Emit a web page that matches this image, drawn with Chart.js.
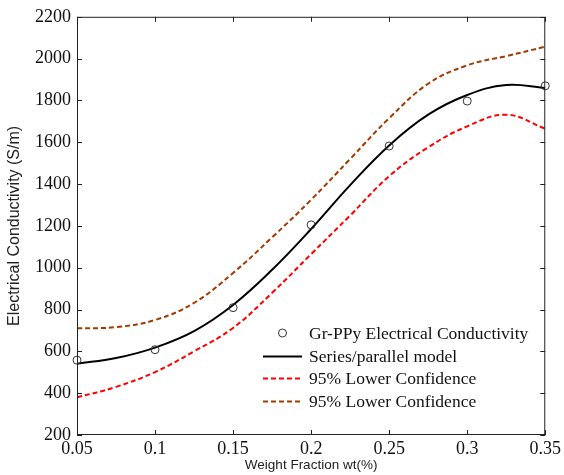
<!DOCTYPE html>
<html>
<head>
<meta charset="utf-8">
<script src="https://cdn.jsdelivr.net/npm/chart.js@4.4.0/dist/chart.umd.min.js"></script>
<style>
  html, body { margin: 0; padding: 0; background: #fff; }
  #wrap { width: 564px; height: 475px; }
</style>
</head>
<body>
<div id="wrap"><canvas id="chartId" width="564" height="475"></canvas></div>
<script>
// weight fraction grid for the fitted curves
var fractions = [0.05, 0.075, 0.1, 0.125, 0.15, 0.175, 0.2, 0.225, 0.25, 0.275, 0.3, 0.325, 0.35];
var modelValues = [541, 568, 618, 697, 822, 990, 1185, 1395, 1585, 1732, 1826, 1874, 1860];
var lowerValues = [380, 430, 501, 600, 712, 880, 1065, 1250, 1438, 1576, 1676, 1732, 1665];
var upperValues = [710, 716, 750, 832, 975, 1145, 1325, 1520, 1715, 1880, 1968, 2012, 2057];

// measured points
var measuredX = [0.05, 0.1, 0.15, 0.2, 0.25, 0.3, 0.35];
var measuredY = [558, 608, 809, 1205, 1582, 1797, 1870];

var seriesLabels = ['Gr-PPy Electrical Conductivity', 'Series/parallel model', '95% Lower Confidence', '95% Lower Confidence'];
var xTicks = [0.05, 0.1, 0.15, 0.2, 0.25, 0.3, 0.35];

function pairs(xs, ys) {
	return xs.map(function (x, i) { return { x: x, y: ys[i] }; });
}

var serif = "'Liberation Serif', 'Times New Roman', serif";
var sans = "'Liberation Sans', Arial, sans-serif";

// frame with inward ticks on all four sides
var framePlugin = {
	id: 'frame',
	afterDraw: function (chart) {
		var ctx = chart.ctx, a = chart.chartArea;
		var xs = chart.scales.x, ys = chart.scales.y;
		ctx.save();
		ctx.strokeStyle = '#222';
		ctx.lineWidth = 1;
		ctx.strokeRect(a.left + 0.5, a.top + 0.5, a.right - a.left - 1, a.bottom - a.top - 1);
		ctx.beginPath();
		xs.ticks.forEach(function (t) {
			var px = Math.round(xs.getPixelForValue(t.value)) + 0.5;
			ctx.moveTo(px, a.bottom); ctx.lineTo(px, a.bottom - 5);
			ctx.moveTo(px, a.top); ctx.lineTo(px, a.top + 5);
		});
		ys.ticks.forEach(function (t) {
			var py = Math.round(ys.getPixelForValue(t.value)) + 0.5;
			ctx.moveTo(a.left, py); ctx.lineTo(a.left + 5, py);
			ctx.moveTo(a.right, py); ctx.lineTo(a.right - 5, py);
		});
		ctx.stroke();
		ctx.restore();
	}
};

// legend inside the plot, lower right
var legendPlugin = {
	id: 'insideLegend',
	afterDraw: function (chart) {
		var ctx = chart.ctx;
		var x0 = 263, x1 = 302, tx = 309;
		var rows = [333, 356, 378, 401];
		ctx.save();
		ctx.font = '17.5px ' + serif;
		ctx.textBaseline = 'middle';
		[0, 1, 2, 3].forEach(function (di, r) {
			var ds = chart.data.datasets[di];
			var y = rows[r];
			if (di === 0) {
				ctx.beginPath();
				ctx.arc((x0 + x1) / 2, y, 4, 0, Math.PI * 2);
				ctx.strokeStyle = ds.borderColor;
				ctx.lineWidth = 1;
				ctx.stroke();
			} else {
				ctx.beginPath();
				ctx.setLineDash(ds.borderDash || []);
				ctx.strokeStyle = ds.borderColor;
				ctx.lineWidth = ds.borderWidth;
				ctx.moveTo(x0, y + 0.5); ctx.lineTo(x1, y + 0.5);
				ctx.stroke();
				ctx.setLineDash([]);
			}
			ctx.fillStyle = '#111';
			ctx.fillText(ds.label, tx, y + 1);
		});
		ctx.restore();
	}
};

var chrt = document.getElementById('chartId').getContext('2d');
var chartId = new Chart(chrt, {
	type: 'scatter',
	data: {
		datasets: [{
			label: seriesLabels[0],
			data: pairs(measuredX, measuredY),
			showLine: false,
			pointStyle: 'circle',
			pointRadius: 4,
			pointBorderWidth: 1,
			borderColor: '#333',
			backgroundColor: 'rgba(0,0,0,0)',
			clip: false,
			order: 0
		}, {
			label: seriesLabels[1],
			data: pairs(fractions, modelValues),
			showLine: true,
			tension: 0.4,
			borderColor: '#000',
			borderWidth: 2,
			pointRadius: 0,
			order: 1
		}, {
			label: seriesLabels[2],
			data: pairs(fractions, lowerValues),
			showLine: true,
			tension: 0.4,
			borderColor: '#ff0000',
			borderWidth: 2,
			borderDash: [5, 3],
			pointRadius: 0,
			order: 2
		}, {
			label: seriesLabels[3],
			data: pairs(fractions, upperValues),
			showLine: true,
			tension: 0.4,
			borderColor: '#a23a00',
			borderWidth: 2,
			borderDash: [5, 3],
			pointRadius: 0,
			order: 3
		}]
	},
	options: {
		responsive: false,
		animation: false,
		layout: { padding: { top: 15, right: 15, left: 0, bottom: 0 } },
		plugins: {
			legend: { display: false },
			tooltip: { enabled: false }
		},
		scales: {
			x: {
				type: 'linear',
				min: 0.05,
				max: 0.35,
				afterFit: function (s) { s.height = 40; },
				afterBuildTicks: function (s) { s.ticks = xTicks.map(function (v) { return { value: v }; }); },
				grid: { drawOnChartArea: false, drawTicks: false },
				border: { display: false },
				ticks: {
					padding: 3,
					color: '#111',
					font: { family: serif, size: 18 },
					maxRotation: 0,
					callback: function (v) { return String(Number(v.toFixed(2))); }
				},
				title: {
					display: true,
					text: 'Weight Fraction wt(%)',
					color: '#222',
					font: { family: sans, size: 13.5 },
					padding: { top: 0, bottom: 2 }
				}
			},
			y: {
				min: 200,
				max: 2200,
				afterFit: function (s) { s.width = 77; },
				grid: { drawOnChartArea: false, drawTicks: false },
				border: { display: false },
				ticks: {
					stepSize: 200,
					padding: 6,
					color: '#111',
					font: { family: serif, size: 18 },
					callback: function (v) { return String(v); }
				},
				title: {
					display: true,
					text: 'Electrical Conductivity (S/m)',
					color: '#222',
					font: { family: sans, size: 16 },
					padding: { top: 5, bottom: 0 }
				}
			}
		}
	},
	plugins: [framePlugin, legendPlugin]
});
</script>
</body>
</html>
